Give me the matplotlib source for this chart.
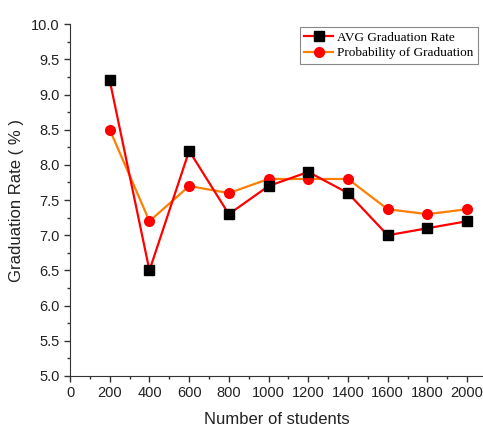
import matplotlib.pyplot as plt
from matplotlib.ticker import MultipleLocator

# data
students = [200, 400, 600, 800, 1000, 1200, 1400, 1600, 1800, 2000]
avg_rate = [9.2, 6.5, 8.2, 7.3, 7.7, 7.9, 7.6, 7.0, 7.1, 7.2]
prob_grad = [8.5, 7.2, 7.7, 7.6, 7.8, 7.8, 7.8, 7.37, 7.3, 7.37]

plt.rcParams['font.family'] = ['Liberation Sans', 'DejaVu Sans']

fig = plt.figure(figsize=(4.83, 4.28), dpi=100)
ax = fig.add_axes([0.145, 0.1215, 0.855, 0.822])

ax.plot(students, avg_rate, color='#ff0000', lw=1.6, marker='s', ms=6.5,
        mfc='black', mec='black', label='AVG Graduation Rate', zorder=3)
ax.plot(students, prob_grad, color='#ff7f00', lw=1.6, marker='o', ms=7,
        mfc='#ff0000', mec='#ff0000', label='Probability of Graduation', zorder=2)

ax.set_xlim(0, 2080)
ax.set_ylim(5, 10)
ax.xaxis.set_major_locator(MultipleLocator(200))
ax.xaxis.set_minor_locator(MultipleLocator(100))
ax.yaxis.set_major_locator(MultipleLocator(0.5))
ax.yaxis.set_minor_locator(MultipleLocator(0.25))
ax.yaxis.set_major_formatter(plt.FormatStrFormatter('%.1f'))

for s in ['top', 'right']:
    ax.spines[s].set_visible(False)
ax.spines['left'].set_color('#333333')
ax.spines['bottom'].set_color('#333333')
ax.tick_params(which='major', direction='out', length=4, width=1, labelsize=10.5,
               colors='#333333', labelcolor='#222222')
ax.tick_params(which='minor', direction='out', length=2.5, width=1, colors='#333333')

ax.set_xlabel('Number of students', fontsize=12, color='#222222', labelpad=8)
ax.set_ylabel('Graduation Rate ( % )', fontsize=12, color='#222222', labelpad=5)

leg = ax.legend(loc='upper right', bbox_to_anchor=(0.99, 0.937),
                bbox_transform=fig.transFigure, fancybox=False, framealpha=1,
                edgecolor='#888888', prop={'family': 'Liberation Serif', 'size': 9.5},
                handlelength=2.2, handletextpad=0.3, borderpad=0.35, labelspacing=0.25,
                borderaxespad=0)
leg.get_frame().set_linewidth(0.8)

fig.savefig('out.png', dpi=100)
